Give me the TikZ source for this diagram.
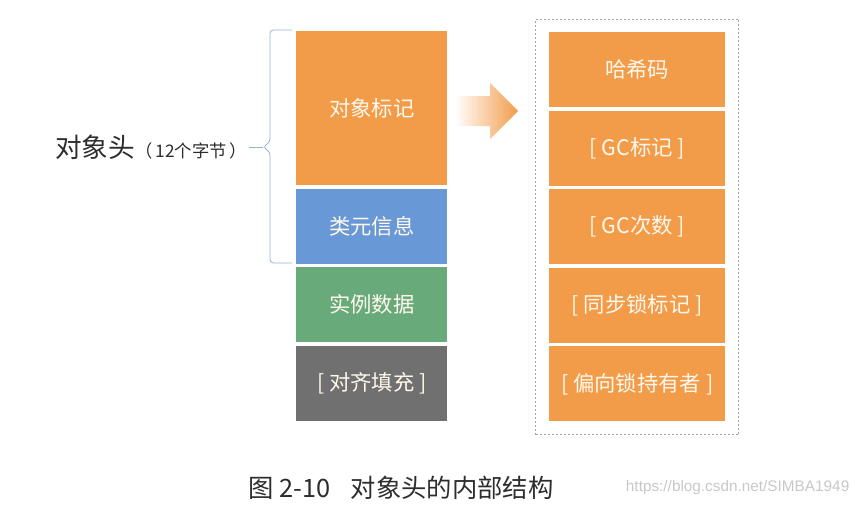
\documentclass[tikz,border=0pt]{standalone}
\usepackage{fontspec}
\newfontfamily\cjk{Noto Sans CJK SC}
\newfontfamily\urlfont{Liberation Sans}
\usetikzlibrary{fit,positioning}
\definecolor{hdorange}{RGB}{242,156,74}
\definecolor{hdblue}{RGB}{104,152,214}
\definecolor{hdgreen}{RGB}{104,170,122}
\definecolor{hdgray}{RGB}{112,112,112}
\definecolor{boxtext}{RGB}{255,248,236}
\definecolor{bracecol}{RGB}{150,178,210}
\definecolor{framegray}{RGB}{165,165,165}
\definecolor{labelgray}{RGB}{45,45,45}
\definecolor{wmgray}{RGB}{200,200,200}

\begin{document}
\begin{tikzpicture}[x=.75pt,y=-.75pt,font=\cjk,
    blk/.style={inner sep=0pt,minimum width=113.25pt,minimum height=56.25pt,text=boxtext,font=\cjk\fontsize{16}{19}\selectfont},
    wblk/.style={blk,minimum width=132pt,fill=hdorange}]
    \useasboundingbox (0,0) rectangle (861,507);
    \node[blk,fill=hdorange,minimum height=115.5pt,anchor=north west] (mark) at (296,31) {对象标记};
    \node[blk,fill=hdblue,below=2.25pt of mark] (klass) {类元信息};
    \node[blk,fill=hdgreen,below=2.25pt of klass] (data) {实例数据};
    \node[blk,fill=hdgray,below=2.25pt of data] (pad) {[ 对齐填充 ]};
    \node[wblk,anchor=north west] (hash) at (549,32) {哈希码};
    \node[wblk,below=2.25pt of hash] (gcmark) {[ GC标记 ]};
    \node[wblk,below=2.25pt of gcmark] (gcage) {[ GC次数 ]};
    \node[wblk,below=2.25pt of gcage] (lock) {[ 同步锁标记 ]};
    \node[wblk,below=2.25pt of lock] (owner) {[ 偏向锁持有者 ]};
    \node[draw=framegray,line width=.6pt,dash pattern=on 1.5pt off 1.5pt,fit=(hash)(owner),inner xsep=10pt,inner ysep=9.75pt] (frame) {};
    \shade[left color=white,right color=hdorange] (455,96) -- (490,96) -- (490,83) -- (518,111) -- (490,139) -- (490,126) -- (455,126) -- cycle;
    \draw[bracecol,line width=.6pt,rounded corners=2.5pt] (292,30) -- (270,30) -- (270,142) -- (263,147) coordinate (tip) -- (270,152) -- (270,263) -- (292,263);
    \node[anchor=west,inner sep=1.5pt,text=labelgray] (head) at (53,147) {\fontsize{20}{24}\selectfont 对象头\fontsize{13}{15}\selectfont（\,12个字节\,）};
    \draw[bracecol,line width=.6pt] (head) -- (tip);
    \node[anchor=west,text=labelgray,font=\cjk\fontsize{19}{23}\selectfont] (cap) at (244,488) {图 2-10\hspace{.8em}对象头的内部结构};
    \node[anchor=east,text=wmgray,font=\urlfont\fontsize{11.5}{13}\selectfont] (wm) at (854,488) {https://blog.csdn.net/SIMBA1949};
\end{tikzpicture}
\end{document}
